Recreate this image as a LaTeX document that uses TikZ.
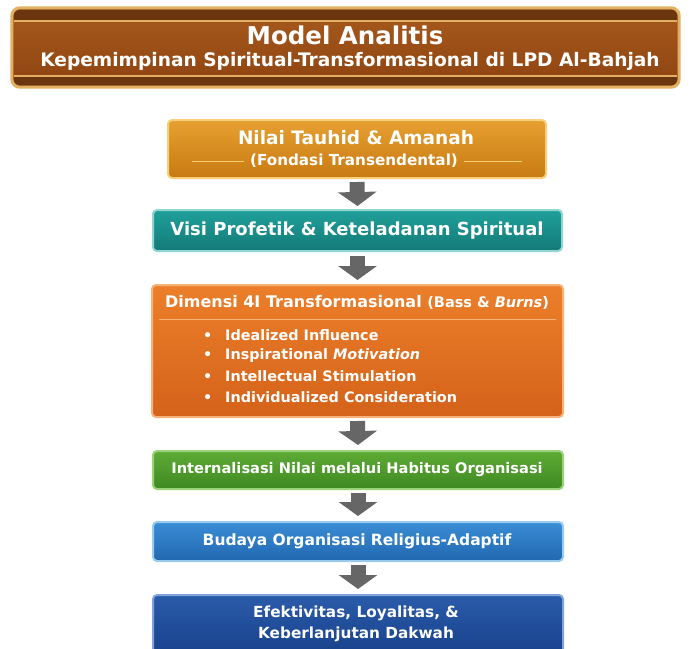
\documentclass[tikz,border=0pt]{standalone}
\usepackage{fontspec}
\setmainfont{DejaVu Sans}
\usetikzlibrary{arrows.meta}
\definecolor{bantop}{HTML}{A85A1C}
\definecolor{banbot}{HTML}{8E4412}
\definecolor{bandark}{HTML}{6B3510}
\definecolor{bangold}{HTML}{E2B062}
\definecolor{oneTop}{HTML}{E6A030}
\definecolor{oneBot}{HTML}{C87A12}
\definecolor{oneBrd}{HTML}{F6CF78}
\definecolor{twoTop}{HTML}{20A09B}
\definecolor{twoBot}{HTML}{137A78}
\definecolor{twoBrd}{HTML}{8FD6D0}
\definecolor{thrTop}{HTML}{EC7F2A}
\definecolor{thrBot}{HTML}{D4621A}
\definecolor{thrBrd}{HTML}{F7B27A}
\definecolor{fouTop}{HTML}{5DAA35}
\definecolor{fouBot}{HTML}{3F8A22}
\definecolor{fouBrd}{HTML}{9AD27A}
\definecolor{fivTop}{HTML}{3A8DD6}
\definecolor{fivBot}{HTML}{2168B0}
\definecolor{fivBrd}{HTML}{9ACAF0}
\definecolor{sixTop}{HTML}{2A5BAA}
\definecolor{sixBot}{HTML}{173F88}
\definecolor{sixBrd}{HTML}{7FA3DA}
\definecolor{arrowgray}{HTML}{666666}
\begin{document}
\begin{tikzpicture}[x=1pt,y=-1pt,
  box/.style={rounded corners=4pt, line width=2pt, inner sep=0pt},
  lbl/.style={text=white, font=\bfseries, inner sep=0pt},
  flowarrow/.style={draw=arrowgray, line width=15pt, -{Triangle[width=38pt,length=14pt]}},
  deco/.style={line width=1pt}]
\useasboundingbox (0,0) rectangle (690,648);
\clip (0,0) rectangle (690,648);
\fill[white] (0,0) rectangle (690,648);
% banner
\node[rounded corners=8pt, inner sep=0pt, top color=bantop, bottom color=banbot,
  minimum width=667pt, minimum height=79pt] (banner) at (345.5,47.5) {};
\begin{scope}
  \clip[rounded corners=7pt] (13.5,9.5) rectangle (677.5,85.5);
  \fill[bandark] (10,8) rectangle (680,20);
  \fill[bandark] (10,77) rectangle (680,88);
\end{scope}
\draw[bangold, line width=1.5pt] ([xshift=2pt]banner.west |- 0,21) -- ([xshift=-2pt]banner.east |- 0,21);
\draw[bangold, line width=1.5pt] ([xshift=2pt]banner.west |- 0,76) -- ([xshift=-2pt]banner.east |- 0,76);
\draw[bangold, line width=3pt, rounded corners=8pt] (banner.north west) rectangle (banner.south east);
\node[lbl, font=\bfseries\fontsize{24.5}{28}\selectfont] (title) at (345,35) {Model Analitis};
\node[lbl, font=\bfseries\fontsize{18.6}{22}\selectfont] (subtitle) at (350,61) {Kepemimpinan Spiritual-Transformasional di LPD Al-Bahjah};
% boxes
\node[box, draw=oneBrd, top color=oneTop, bottom color=oneBot, minimum width=378pt, minimum height=58pt] (b1) at (357,149) {};
\node[box, draw=twoBrd, top color=twoTop, bottom color=twoBot, minimum width=409pt, minimum height=41pt] (b2) at (357.5,230.5) {};
\node[box, draw=thrBrd, top color=thrTop, bottom color=thrBot, minimum width=411pt, minimum height=132pt] (b3) at (357.5,351) {};
\node[box, draw=fouBrd, top color=fouTop, bottom color=fouBot, minimum width=410pt, minimum height=38pt] (b4) at (358,470) {};
\node[box, draw=fivBrd, top color=fivTop, bottom color=fivBot, minimum width=410pt, minimum height=39pt] (b5) at (358,541.5) {};
\node[box, draw=sixBrd, top color=sixTop, bottom color=sixBot, minimum width=410pt, minimum height=64pt] (b6) at (358,627) {};
% box 1 text
\node[lbl, font=\bfseries\fontsize{18.5}{22}\selectfont] (b1a) at (356,138) {Nilai Tauhid \& Amanah};
\node[lbl, font=\bfseries\fontsize{15.2}{18}\selectfont] (b1b) at (354,161) {(Fondasi Transendental)};
\draw[deco, oneBrd] ([xshift=-6pt]b1b.west) -- ++(-52,0);
\draw[deco, oneBrd] ([xshift=6pt]b1b.east) -- ++(58,0);
% box 2 text
\node[lbl, font=\bfseries\fontsize{18}{22}\selectfont] (b2t) at (357,231) {Visi Profetik \& Keteladanan Spiritual};
% box 3 text
\node[lbl, font=\bfseries\fontsize{16}{20}\selectfont] (b3h) at (357,302) {Dimensi 4I Transformasional {\fontsize{14.5}{18}\selectfont(Bass \& \textit{Burns})}};
\draw[deco, thrBrd] ([xshift=8pt]b3.west |- 0,319) -- ([xshift=-8pt]b3.east |- 0,319);
\node[lbl, anchor=west, font=\bfseries\fontsize{14.4}{18}\selectfont] (i1) at (203,335.5) {\makebox[22pt][l]{•}Idealized Influence};
\node[lbl, anchor=west, font=\bfseries\fontsize{14.4}{18}\selectfont] (i2) at (203,356) {\makebox[22pt][l]{•}Inspirational \textit{Motivation}};
\node[lbl, anchor=west, font=\bfseries\fontsize{14.4}{18}\selectfont] (i3) at (203,376.5) {\makebox[22pt][l]{•}Intellectual Stimulation};
\node[lbl, anchor=west, font=\bfseries\fontsize{14.4}{18}\selectfont] (i4) at (203,397) {\makebox[22pt][l]{•}Individualized Consideration};
% box 4-6 text
\node[lbl, font=\bfseries\fontsize{14.6}{18}\selectfont] (b4t) at (357,469.5) {Internalisasi Nilai melalui Habitus Organisasi};
\node[lbl, font=\bfseries\fontsize{15.5}{19}\selectfont] (b5t) at (357,541) {Budaya Organisasi Religius-Adaptif};
\node[lbl, align=center, font=\bfseries\fontsize{15.3}{20.5}\selectfont] (b6t) at (356,624) {Efektivitas, Loyalitas, \&\\Keberlanjutan Dakwah};
% arrows
\draw[flowarrow] ([yshift=-3pt]b1.south) -- ([yshift=3pt]b2.north);
\draw[flowarrow] ([yshift=-4pt]b2.south) -- ([yshift=4pt]b3.north);
\draw[flowarrow] ([yshift=-3pt]b3.south) -- ([yshift=5pt]b4.north);
\draw[flowarrow] ([yshift=-3pt]b4.south) -- ([yshift=5pt]b5.north);
\draw[flowarrow] ([yshift=-3pt]b5.south) -- ([yshift=5pt]b6.north);
\end{tikzpicture}
\end{document}
